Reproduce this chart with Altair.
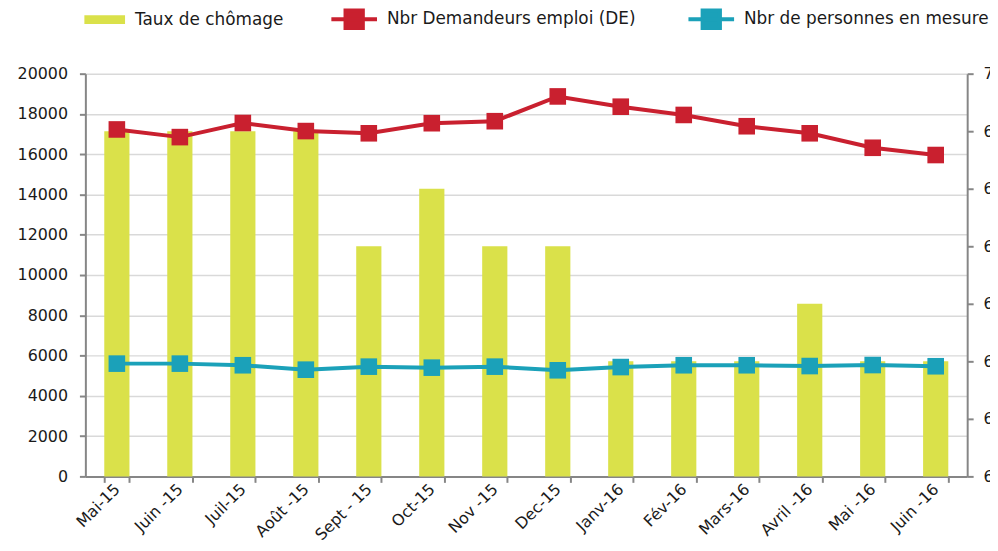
import altair as alt
import pandas as pd

mois = ["Mai-15", "Juin -15", "Juil-15", "Août -15", "Sept - 15", "Oct-15", "Nov -15",
        "Dec-15", "Janv-16", "Fév-16", "Mars-16", "Avril -16", "Mai -16", "Juin -16"]
taux_chomage = [6.9, 6.9, 6.9, 6.9, 6.7, 6.8, 6.7, 6.7, 6.5, 6.5, 6.5, 6.6, 6.5, 6.5]
demandeurs = [17230, 16850, 17550, 17150, 17040, 17540, 17640, 18870, 18360, 17950,
              17390, 17040, 16320, 15960]
en_mesure = [5600, 5600, 5520, 5300, 5450, 5400, 5450, 5270, 5430, 5520, 5520, 5480,
             5530, 5470]

serie_bar = "Taux de chômage"
serie_de = "Nbr Demandeurs emploi (DE)"
serie_mes = "Nbr de personnes en mesure"

YELLOW = "#DAE14A"
RED = "#C9202F"
BLUE = "#1BA1B9"
FONT = "DejaVu Sans"
AXIS_GRAY = "#868686"

bars_df = pd.DataFrame({"mois": mois, "taux": taux_chomage, "serie": serie_bar, "base": 6.3})
lines_df = pd.DataFrame({
    "mois": mois + mois,
    "valeur": demandeurs + en_mesure,
    "serie": [serie_de] * len(mois) + [serie_mes] * len(mois),
})

x_enc = alt.X(
    "mois:N", sort=mois, title=None,
    scale=alt.Scale(paddingInner=0.6, paddingOuter=0.3),
    axis=alt.Axis(labelAngle=-45, tickBand="extent", labelFont=FONT, labelFontSize=16,
                  labelColor="#1a1a1a", domainColor=AXIS_GRAY, domainWidth=2,
                  tickColor=AXIS_GRAY, tickWidth=2, tickSize=6, labelPadding=4,
                  grid=False, labelAlign="right", labelBaseline="middle"),
)

bars = alt.Chart(bars_df).mark_bar(color=YELLOW).encode(
    x=x_enc,
    y=alt.Y("taux:Q", title=None,
            scale=alt.Scale(domain=[6.3, 7.0], zero=False, nice=False),
            axis=alt.Axis(orient="right", values=[6.3, 6.4, 6.5, 6.6, 6.7, 6.8, 6.9, 7.0],
                          labelExpr="replace(format(datum.value, '.1f'), '.', ',')",
                          labelFont=FONT, labelFontSize=16, labelColor="#1a1a1a",
                          domainColor=AXIS_GRAY, domainWidth=2, tickColor=AXIS_GRAY,
                          tickWidth=2, tickSize=6, labelPadding=10, grid=False)),
    y2="base:Q",
    color=alt.Color("serie:N", scale=alt.Scale(domain=[serie_bar], range=[YELLOW]),
                    legend=alt.Legend(orient="none", legendX=-1, legendY=-75, title=None,
                                      symbolType="M-1,-0.21H1V0.21H-1Z", symbolSize=1681,
                                      symbolStrokeWidth=0, labelFont=FONT, labelFontSize=17,
                                      labelColor="#1a1a1a", labelOffset=10, padding=0,
                                      labelLimit=400)),
)

lines = alt.Chart(lines_df).mark_line(
    strokeWidth=4,
    point=alt.OverlayMarkDef(shape="square", size=280, filled=True, opacity=1),
).encode(
    x=x_enc,
    y=alt.Y("valeur:Q", title=None,
            scale=alt.Scale(domain=[0, 20000], nice=False),
            axis=alt.Axis(orient="left", values=list(range(0, 20001, 2000)), format="d",
                          labelFont=FONT, labelFontSize=16, labelColor="#1a1a1a",
                          domainColor=AXIS_GRAY, domainWidth=2, tickColor=AXIS_GRAY,
                          tickWidth=2, tickSize=6, labelPadding=12, grid=True,
                          gridColor="#d9d9d9", gridWidth=1.5)),
    color=alt.Color("serie:N", sort=[serie_de, serie_mes],
                    scale=alt.Scale(domain=[serie_de, serie_mes], range=[RED, BLUE]),
                    legend=alt.Legend(orient="none", direction="horizontal", columns=2,
                                      legendX=246, legendY=-80, title=None,
                                      symbolType="M-1,0H1M-0.38,-0.38H0.38V0.38H-0.38Z",
                                      symbolSize=2116, symbolStrokeWidth=4,
                                      labelFont=FONT, labelFontSize=17, labelColor="#1a1a1a",
                                      labelOffset=8, columnPadding=45, padding=0,
                                      labelLimit=400)),
)

chart = alt.layer(bars, lines).resolve_scale(
    y="independent", color="independent"
).resolve_legend(color="independent").properties(
    width=889, height=406,
    autosize=alt.AutoSizeParams(type="none"),
    padding={"left": 78, "top": 64, "right": 23, "bottom": 73},
).configure_view(strokeWidth=0)

chart.save("out.html", embed_options={"renderer": "svg", "actions": False})
